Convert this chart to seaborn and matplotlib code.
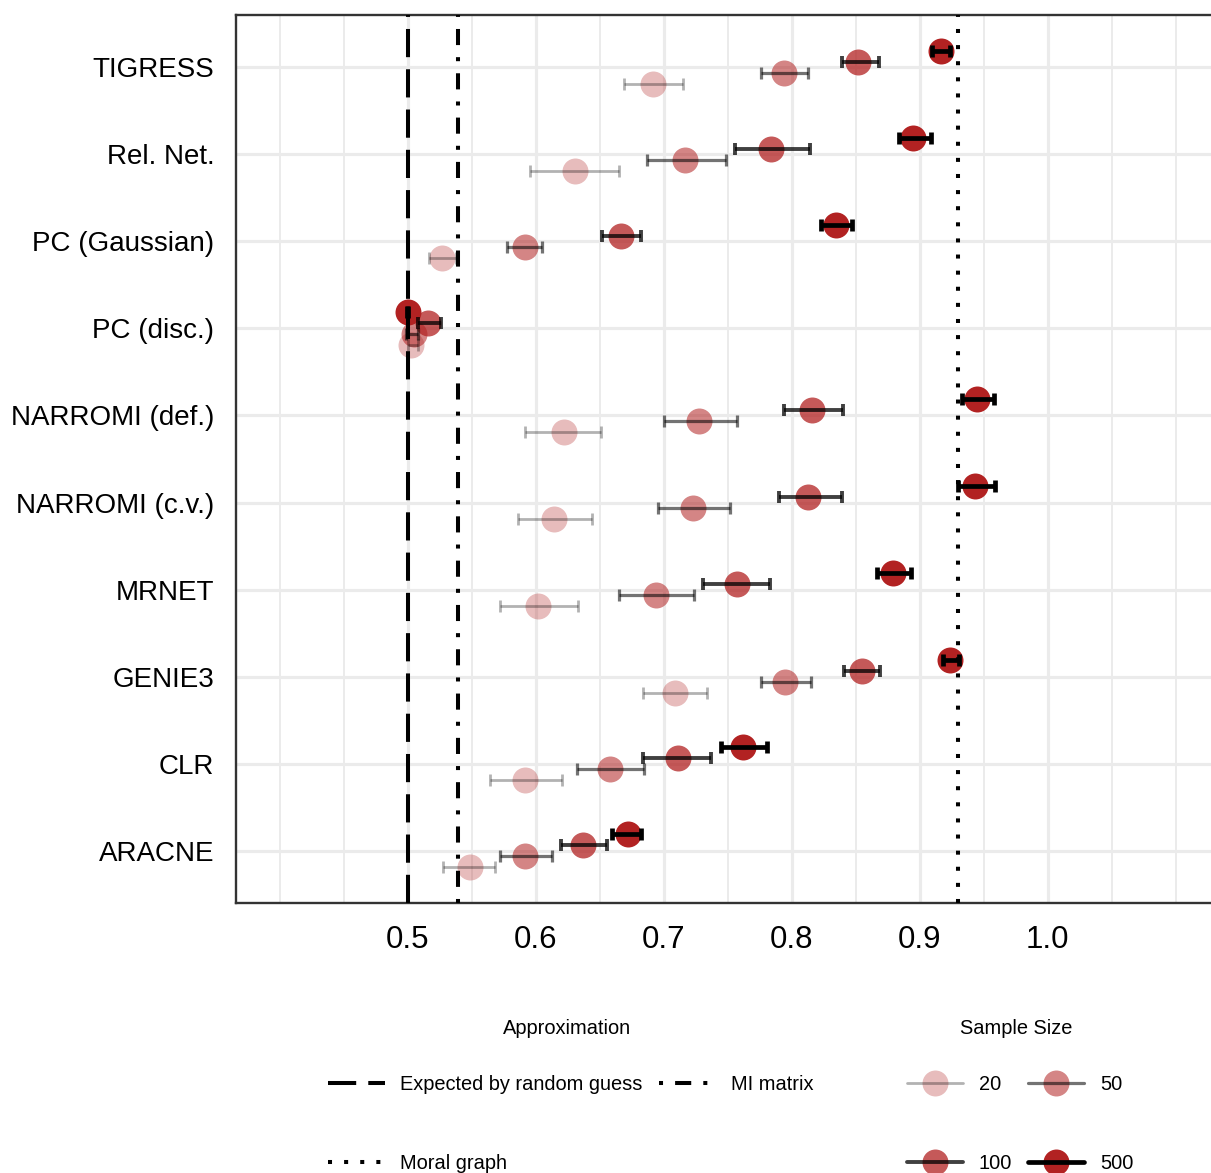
import numpy as np
import pandas as pd
import matplotlib
matplotlib.use("Agg")
import matplotlib.pyplot as plt
import seaborn as sns
from matplotlib.lines import Line2D
from matplotlib.legend_handler import HandlerTuple

# ---------------- data ----------------
methods = ["TIGRESS", "Rel. Net.", "PC (Gaussian)", "PC (disc.)", "NARROMI (def.)",
           "NARROMI (c.v.)", "MRNET", "GENIE3", "CLR", "ARACNE"]
sample_sizes = [20, 50, 100, 500]

auc_20 = [0.692, 0.631, 0.527, 0.503, 0.622, 0.614, 0.602, 0.709, 0.592, 0.549]
lo_20 = [0.669, 0.596, 0.517, 0.500, 0.592, 0.586, 0.572, 0.684, 0.564, 0.528]
hi_20 = [0.715, 0.665, 0.538, 0.508, 0.651, 0.644, 0.633, 0.734, 0.621, 0.568]

auc_50 = [0.794, 0.717, 0.592, 0.505, 0.728, 0.723, 0.694, 0.795, 0.658, 0.592]
lo_50 = [0.776, 0.687, 0.578, 0.499, 0.700, 0.696, 0.665, 0.776, 0.632, 0.572]
hi_50 = [0.813, 0.749, 0.605, 0.508, 0.757, 0.752, 0.724, 0.815, 0.685, 0.613]

auc_100 = [0.852, 0.784, 0.667, 0.516, 0.816, 0.813, 0.757, 0.855, 0.711, 0.637]
lo_100 = [0.839, 0.756, 0.652, 0.508, 0.794, 0.790, 0.731, 0.841, 0.684, 0.620]
hi_100 = [0.868, 0.814, 0.682, 0.526, 0.840, 0.839, 0.783, 0.869, 0.737, 0.656]

auc_500 = [0.917, 0.895, 0.835, 0.500, 0.945, 0.943, 0.879, 0.924, 0.762, 0.672]
lo_500 = [0.910, 0.884, 0.823, 0.4995, 0.933, 0.930, 0.867, 0.918, 0.745, 0.660]
hi_500 = [0.924, 0.909, 0.847, 0.5005, 0.958, 0.959, 0.893, 0.931, 0.781, 0.682]

ref_labels = ["Expected by random guess", "MI matrix", "Moral graph"]
ref_values = [0.5, 0.539, 0.930]

x_tick_values = [0.5, 0.6, 0.7, 0.8, 0.9, 1.0]
x_tick_labels = ["0.5", "0.6", "0.7", "0.8", "0.9", "1.0"]

# ---------------- styles ----------------
RED = (178 / 255, 34 / 255, 34 / 255)
alphas = {20: 0.3, 50: 0.55, 100: 0.75, 500: 1.0}
bar_lw = {20: 2.0, 50: 2.3, 100: 2.8, 500: 3.4}
dodge = {20: 0.1875, 50: 0.0625, 100: -0.0625, 500: -0.1875}
ref_styles = [(0, (7, 3)), (0, (1, 3, 4, 3)), (0, (1, 3))]

sns.set_theme(style="white")
plt.rcParams['font.family'] = ['Liberation Sans', 'DejaVu Sans']
plt.rcParams['text.color'] = 'black'

frames = []
for n, a, l, h in zip(sample_sizes, [auc_20, auc_50, auc_100, auc_500],
                      [lo_20, lo_50, lo_100, lo_500], [hi_20, hi_50, hi_100, hi_500]):
    frames.append(pd.DataFrame({"method": methods, "auc": a, "lo": l, "hi": h, "n": n}))
df = pd.concat(frames, ignore_index=True)
df["pos"] = df["method"].map({m: i for i, m in enumerate(methods)}) + df["n"].map(dodge)

W, H = 1211, 1173
fig = plt.figure(figsize=(W / 100, H / 100), dpi=100)
ax = fig.add_axes([236 / W, 1 - 903 / H, (1216 - 236) / W, (903 - 15) / H])

for n in sample_sizes:
    sub = df[df["n"] == n]
    sns.scatterplot(data=sub, x="auc", y="pos", color=RED, alpha=alphas[n], s=350,
                    linewidth=0, ax=ax, zorder=2, legend=False)
    ax.errorbar(sub["auc"], sub["pos"], xerr=[sub["auc"] - sub["lo"], sub["hi"] - sub["auc"]],
                fmt="none", ecolor=(0, 0, 0, alphas[n]), elinewidth=bar_lw[n],
                capsize=4.0, capthick=bar_lw[n], zorder=3)

for v, ls in zip(ref_values, ref_styles):
    ax.axvline(v, color="black", lw=2.9, linestyle=ls, zorder=4)

px_per_unit = (1047.6 - 407.6) / 0.5
ax.set_xlim(0.5 - (407.6 - 236) / px_per_unit, 0.5 + (1216 - 407.6) / px_per_unit)
ax.set_ylim(len(methods) - 1 + 0.6, -0.6)

ax.set_xticks(x_tick_values)
ax.set_xticklabels(x_tick_labels)
ax.set_xticks([0.4, 0.45, 0.55, 0.65, 0.75, 0.85, 0.95, 1.05, 1.1], minor=True)
ax.set_yticks(range(len(methods)))
ax.set_yticklabels(methods)
ax.set_xlabel("")
ax.set_ylabel("")

ax.set_axisbelow(True)
ax.grid(which="major", color="#EBEBEB", lw=2.3)
ax.grid(which="minor", axis="x", color="#EBEBEB", lw=1.4)
ax.tick_params(which="minor", length=0)
ax.tick_params(which="major", length=7.2, width=2.0, color="#333333", labelcolor="black")
ax.tick_params(axis="y", which="major", labelsize=20, pad=8.5)
ax.tick_params(axis="x", which="major", labelsize=22.5, pad=9)
for sp in ax.spines.values():
    sp.set_color("#333333")
    sp.set_linewidth(1.7)

# ---------------- legends ----------------
fs = 14.4
ref_handles = [Line2D([], [], color="black", lw=2.9, linestyle=ls) for ls in ref_styles]
order1 = [0, 2, 1]
fig.legend(handles=[ref_handles[i] for i in order1], labels=[ref_labels[i] for i in order1],
           ncol=2, loc="upper left", bbox_to_anchor=(328 / W, 1 - 1075 / H),
           frameon=False, fontsize=fs, handlelength=2.85, handletextpad=0.75,
           columnspacing=0.85, labelspacing=2.98, borderpad=0, borderaxespad=0)

size_handles = []
for n in sample_sizes:
    pt = Line2D([], [], linestyle="none", marker="o", markersize=18.7,
                markerfacecolor=RED + (alphas[n],), markeredgewidth=0)
    ln = Line2D([], [], color=(0, 0, 0, alphas[n]), lw=bar_lw[n])
    size_handles.append((pt, ln))
order2 = [0, 2, 1, 3]
fig.legend(handles=[size_handles[i] for i in order2], labels=[str(sample_sizes[i]) for i in order2],
           ncol=2, loc="upper left", bbox_to_anchor=(907 / W, 1 - 1075 / H),
           frameon=False, fontsize=fs, handlelength=2.8, handletextpad=0.8,
           columnspacing=0.8, labelspacing=2.98, borderpad=0, borderaxespad=0,
           handler_map={tuple: HandlerTuple(ndivide=1)})

fig.text(567 / W, 1 - 1029 / H, "Approximation", ha="center", va="center", fontsize=fs)
fig.text(1016 / W, 1 - 1029 / H, "Sample Size", ha="center", va="center", fontsize=fs)

fig.savefig("out.png", dpi=100)
